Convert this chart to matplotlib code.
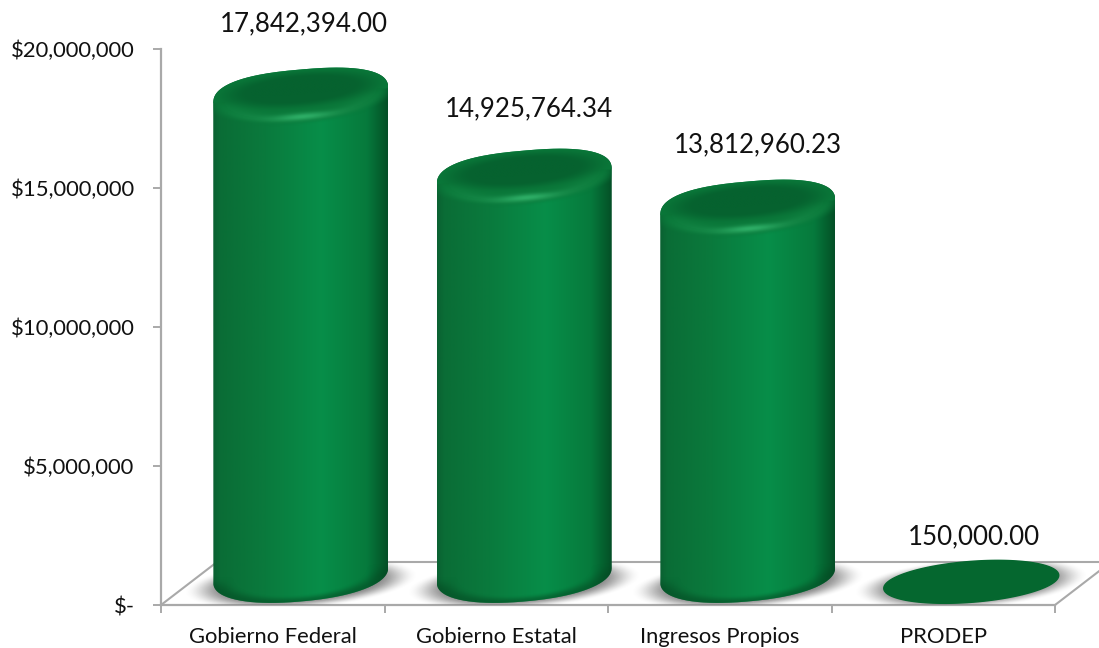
import numpy as np
import matplotlib
matplotlib.use("Agg")
import matplotlib.pyplot as plt
from matplotlib.path import Path
from matplotlib.patches import PathPatch
from matplotlib.colors import to_rgb

categories = ["Gobierno Federal", "Gobierno Estatal", "Ingresos Propios", "PRODEP"]
values = [17842394.00, 14925764.34, 13812960.23, 150000.00]
value_labels = ["17,842,394.00", "14,925,764.34", "13,812,960.23", "150,000.00"]
y_ticks = [0, 5000000, 10000000, 15000000, 20000000]
y_tick_labels = ["$-", "$5,000,000", "$10,000,000", "$15,000,000", "$20,000,000"]

# layout (pixels of the 1099x648 canvas)
W, H = 1099, 648
L, R, B, T = 161, 1055, 605, 49
label_offsets_px = [(3, 85), (5, 81), (10, 76), (3, 64)]
plt.rcParams["font.family"] = ["Lato", "DejaVu Sans"]

fig = plt.figure(figsize=(W / 100, H / 100), dpi=100)
ax = fig.add_axes([L / W, 1 - B / H, (R - L) / W, (B - T) / H])
YMAX = y_ticks[-1]
px_x = 4 / (R - L)
px_y = YMAX / (B - T)
GRAY = "#a9a9a9"

DX, DY = 28 * px_x, 21.5 * px_y          # half depth of the floor
A = 87.5 * px_x                          # half width of every cylinder
E, BB = 7.5 * px_y, 26.5 * px_y          # shear and half height of cylinder ends
E_FLAT, BB_FLAT = 6.5 * px_y, 20.5 * px_y  # same for the flat disc
BASE_UP, TOP_UP = 30 * px_y, 13 * px_y   # lift of cylinder base centre and of top centre
FLAT_UP = 19 * px_y
ROUND = 0.8                              # shoulders slightly squarer than an ellipse


def ell(cx, cy, t, e=E, b=BB, p=1.0):
    c = np.sign(np.cos(t)) * np.abs(np.cos(t)) ** p
    s = np.sign(np.sin(t)) * np.abs(np.sin(t)) ** p
    return cx + A * c, cy + e * c + b * s


def lerp(c1, c2, f):
    c1, c2 = np.array(to_rgb(c1)), np.array(to_rgb(c2))
    return c1 + (c2 - c1) * f[..., None]


def smooth(e0, e1, x):
    z = np.clip((x - e0) / (e1 - e0), 0, 1)
    return z * z * (3 - 2 * z)


def show(rgba, x0, x1, y0, y1, clip, z):
    im = ax.imshow(rgba, extent=[x0, x1, y0, y1], origin="lower", aspect="auto",
                   interpolation="bilinear", zorder=z)
    im.set_clip_box(fig.bbox)
    im.set_clip_path(clip)
    return im


def add_clip(path, z):
    p = PathPatch(path, fc="none", ec="none", transform=ax.transData, zorder=z)
    p.set_clip_box(fig.bbox)
    ax.add_patch(p)
    return p


# floor outline
back_x0, back_x1 = -0.5 + 2 * DX, 3.5 + 2 * DX
ax.plot([-0.5, back_x0], [0, 2 * DY], color=GRAY, lw=1.5, clip_on=False, zorder=1)
ax.plot([back_x0, back_x1], [2 * DY, 2 * DY], color=GRAY, lw=1.5, clip_on=False, zorder=1)
ax.plot([3.5, back_x1], [0, 2 * DY], color=GRAY, lw=1.5, clip_on=False, zorder=1)
floor = Path([(-0.5, 0), (back_x0, 2 * DY), (back_x1, 2 * DY), (3.5, 0), (-0.5, 0)])
floor_clip = add_clip(floor, 2)

stops_x = [0.0, 0.04, 0.30, 0.62, 0.88, 0.975, 1.0]
stops_c = ["#0a6132", "#0a6d36", "#0a7a3d", "#078e49", "#067a3c", "#04592b", "#044f27"]
stops_rgb = np.array([to_rgb(c) for c in stops_c])

for i, v in enumerate(values):
    cx = i + DX
    flat = v < 1000000
    base_y = BASE_UP
    top_y = v + TOP_UP

    # soft shadow on the floor
    xs = np.linspace(cx - 2.0 * A, cx + 2.0 * A, 220)
    ys = np.linspace(0, 2 * DY, 80)
    X, Y = np.meshgrid(xs, ys)
    u = (X - cx) / (A * 1.34)
    w = (Y - DY - E_FLAT * (X - cx) / A) / (BB_FLAT * 1.25)
    d = np.sqrt(u ** 2 + w ** 2)
    rgba = np.zeros(d.shape + (4,))
    rgba[..., :3] = to_rgb("#7c7c7c")
    rgba[..., 3] = 0.95 * (1 - smooth(0.62, 1.0, d))
    show(rgba, xs[0], xs[-1], 0, 2 * DY, floor_clip, 2 + i * 0.01)

    if flat:
        ax.fill(*ell(cx, v + FLAT_UP, np.linspace(0, 2 * np.pi, 160), E_FLAT, BB_FLAT),
                color="#05672f", zorder=3 + i, clip_on=False)
        continue

    # silhouette of the cylinder
    t1 = np.linspace(0, np.pi, 120)
    t2 = np.linspace(np.pi, 2 * np.pi, 120)
    pts = np.vstack([np.column_stack(ell(cx, top_y, t1, p=ROUND)),
                     np.column_stack(ell(cx, base_y, t2, p=0.9))])
    pts = np.vstack([pts, pts[0]])
    sil = add_clip(Path(pts), 3 + i)

    # body: horizontal gradient
    gx = np.linspace(0, 1, 256)
    grad = np.column_stack([np.interp(gx, stops_x, stops_rgb[:, c]) for c in range(3)])[None, :, :]
    show(grad, cx - A, cx + A, 0, top_y + E + BB * 1.1, sil, 3 + i)

    # base bevel: darker lower rim
    xs = np.linspace(cx - A, cx + A, 260)
    ys = np.linspace(0, base_y + 2 * BB, 120)
    X, Y = np.meshgrid(xs, ys)
    u = (X - cx) / A
    w = (Y - base_y - E * u) / BB
    d = np.sqrt(u ** 2 + w ** 2)
    rgba = np.zeros(d.shape + (4,))
    rgba[..., :3] = to_rgb("#044a23")
    rgba[..., 3] = 0.55 * smooth(0.74, 1.0, d) * (1 - smooth(-0.3, 0.2, w))
    show(rgba, cx - A, cx + A, 0, base_y + 2 * BB, sil, 3 + i + 0.1)

    # top cap: dark disc, bevelled rim and front highlight
    xs = np.linspace(cx - A, cx + A, 300)
    ys = np.linspace(top_y - 2.0 * BB, top_y + E + 1.2 * BB, 160)
    X, Y = np.meshgrid(xs, ys)
    u = (X - cx) / A
    w = (Y - top_y - E * u) / BB
    d = np.sqrt((u / 0.94) ** 2 + ((w - 0.24) / 0.70) ** 2)
    front = np.sqrt(u ** 2 + w ** 2)
    colour = lerp("#06622f", "#0a7739", smooth(0.62, 1.12, d))
    glow = np.exp(-((u - 0.03) / 0.30) ** 2 - ((w + 0.78) / 0.13) ** 2)
    rim = np.exp(-((front - 0.86) / 0.16) ** 2) * np.clip(-w * 1.4, 0, 1) * (1 - 0.3 * np.abs(u))
    mix = np.clip(0.30 * rim + 0.70 * glow, 0, 1)
    colour = colour + (np.array(to_rgb("#2fb068")) - colour) * mix[..., None]
    alpha = 1 - smooth(0.88, 1.12, front)
    alpha = np.where(w > 0, 1.0, alpha)
    show(np.dstack([colour, alpha]), cx - A, cx + A, ys[0], ys[-1], sil, 3 + i + 0.2)

# value labels
for i, (v, s, off) in enumerate(zip(values, value_labels, label_offsets_px)):
    ax.annotate(s, xy=(i + DX, v), xytext=(off[0] * 0.72, off[1] * 0.72),
                textcoords="offset points", ha="center", va="center",
                fontsize=18.6, color="#111111", annotation_clip=False, zorder=20)

# axes
for side in ("top", "right"):
    ax.spines[side].set_visible(False)
for side in ("left", "bottom"):
    ax.spines[side].set_color(GRAY)
    ax.spines[side].set_linewidth(1.6)
    ax.spines[side].set_zorder(1.5)
ax.set_yticks(y_ticks)
ax.set_yticklabels(y_tick_labels, fontsize=15.8, color="#111111")
ax.tick_params(axis="y", length=6, width=1.4, color=GRAY, pad=13)
ax.set_xticks(range(len(categories)))
ax.set_xticklabels(categories, fontsize=15.8, color="#111111")
ax.tick_params(axis="x", which="major", length=0, pad=16)
ax.set_xticks(np.arange(-0.5, 4.0, 1.0), minor=True)
ax.tick_params(axis="x", which="minor", length=6, width=1.4, color=GRAY)
ax.set_xlim(-0.5, 3.5)
ax.set_ylim(0, YMAX)
fig.savefig("out.png", dpi=100)
